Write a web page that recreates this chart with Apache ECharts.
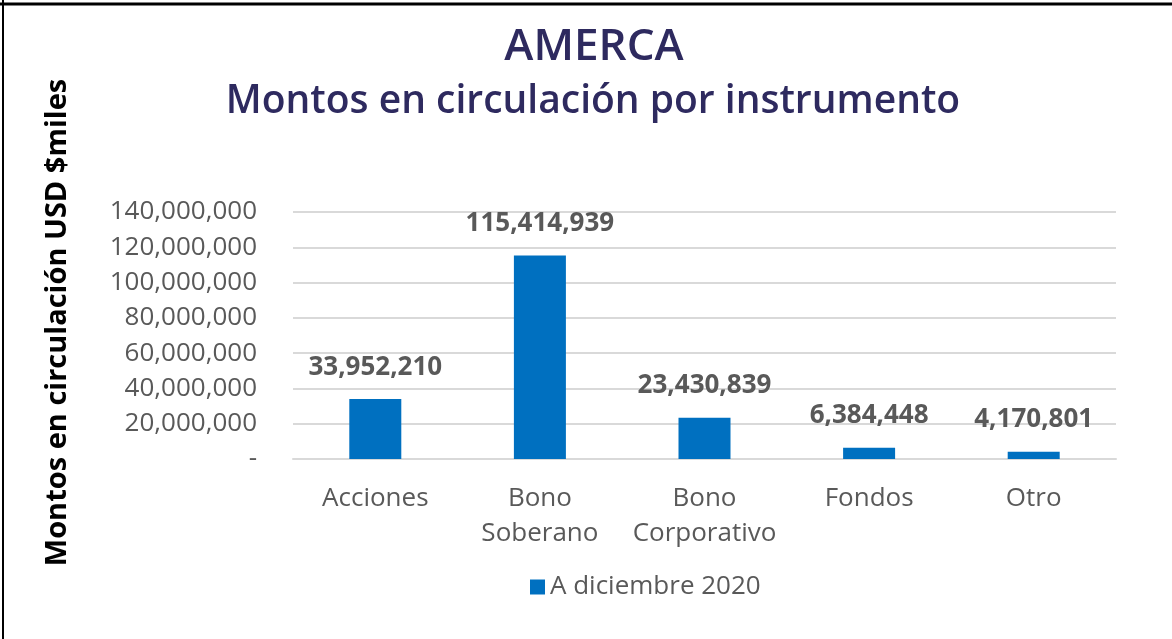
<!DOCTYPE html>
<html>
<head>
<meta charset="utf-8">
<script src="https://cdn.jsdelivr.net/npm/echarts@6/dist/echarts.min.js"></script>
<style>
html,body{margin:0;padding:0;background:#fff;}
#c{width:1172px;height:639px;}
</style>
</head>
<body>
<div id="c"></div>
<script>
const categories = ['Acciones', 'Bono\nSoberano', 'Bono\nCorporativo', 'Fondos', 'Otro'];
const values = [33952210, 115414939, 23430839, 6384448, 4170801];
const seriesName = 'A diciembre 2020';
const titleText = 'AMERCA';
const subtitleText = 'Montos en circulación por instrumento';
const yAxisName = 'Montos en circulación USD $miles';

const fmt = v => v === 0 ? '-' : v.toLocaleString('en-US');
const FONT = '"Open Sans", sans-serif';

const chart = echarts.init(document.getElementById('c'), null, {renderer: 'canvas'});
chart.setOption({
  backgroundColor: '#fff',
  animation: false,
  title: [
    {text: titleText, left: 589, textAlign: 'center', top: 20,
     textStyle: {fontFamily: FONT, fontSize: 44, fontWeight: 600, color: '#2e2a5f'}},
    {text: subtitleText, left: 588, textAlign: 'center', top: 77,
     textStyle: {fontFamily: FONT, fontSize: 39, fontWeight: 600, color: '#2e2a5f'}}
  ],
  legend: {
    bottom: 34, left: 525,
    itemWidth: 15, itemHeight: 15, itemGap: 7,
    icon: 'rect',
    textStyle: {fontFamily: FONT, fontSize: 26, color: '#595959'},
    data: [seriesName]
  },
  grid: {left: 293, right: 56, top: 212, bottom: 180},
  xAxis: {
    type: 'category', data: categories,
    axisLine: {lineStyle: {color: '#d9d9d9', width: 2}},
    axisTick: {show: false},
    axisLabel: {fontFamily: FONT, fontSize: 26, color: '#595959', margin: 22, lineHeight: 35, interval: 0}
  },
  yAxis: {
    type: 'value', min: 0, max: 140000000, interval: 20000000,
    name: yAxisName, nameLocation: 'middle', nameGap: 221,
    nameTextStyle: {fontFamily: FONT, fontSize: 29, fontWeight: 'bold', color: '#000', padding: [0, 0, 0, 26]},
    axisLine: {show: false}, axisTick: {show: false},
    axisLabel: {fontFamily: FONT, fontSize: 26, color: '#595959', margin: 36, formatter: fmt},
    splitLine: {lineStyle: {color: '#d9d9d9', width: 2}}
  },
  series: [{
    name: seriesName, type: 'bar', data: values, barWidth: 52,
    itemStyle: {color: '#0070c0'},
    label: {show: true, position: 'top', distance: 19, formatter: p => fmt(p.value),
      fontFamily: FONT, fontSize: 26, fontWeight: 'bold', color: '#595959'}
  }],
  graphic: [
    {type: 'line', shape: {x1: 0, y1: 4, x2: 1172, y2: 4}, style: {stroke: '#000', lineWidth: 3}},
    {type: 'line', shape: {x1: 3, y1: 0, x2: 3, y2: 639}, style: {stroke: '#000', lineWidth: 2}}
  ]
});
</script>
</body>
</html>
